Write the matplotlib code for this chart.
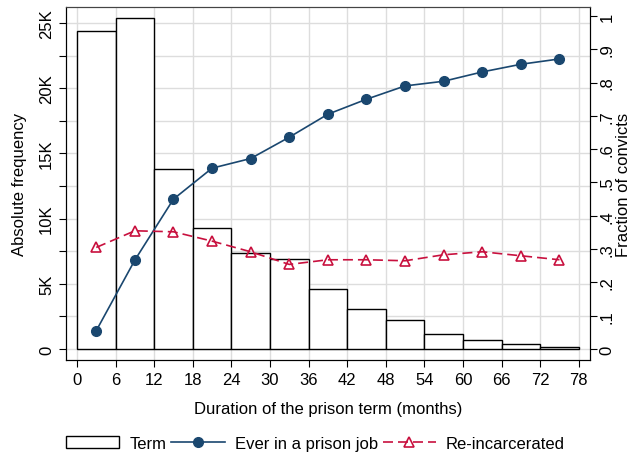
import numpy as np
import matplotlib.pyplot as plt
from matplotlib.ticker import FuncFormatter

plt.rcParams['font.family'] = ['Liberation Sans', 'DejaVu Sans']

# bins of the prison term (months)
bin_left = [0, 6, 12, 18, 24, 30, 36, 42, 48, 54, 60, 66, 72]
bin_mid = [3, 9, 15, 21, 27, 33, 39, 45, 51, 57, 63, 69, 75]
term_count = [24360, 25400, 13800, 9250, 7340, 6930, 4600, 3070, 2200, 1180, 670, 410, 150]
prison_job = [0.055, 0.267, 0.45, 0.543, 0.572, 0.636, 0.705, 0.75, 0.79, 0.804, 0.832, 0.855, 0.871]
reincarc = [0.305, 0.355, 0.352, 0.324, 0.292, 0.254, 0.268, 0.268, 0.265, 0.283, 0.292, 0.28, 0.268]

navy = '#1a476f'
red = '#c8103e'

fig = plt.figure(figsize=(6.31, 4.56), dpi=100)
ax = fig.add_axes([0.1046, 0.2083, 0.83, 0.7742])
ax2 = ax.twinx()

bars = ax.bar(bin_left, term_count, width=6, align='edge', facecolor='white',
              edgecolor='black', linewidth=1.0, label='Term', zorder=2)

ax.set_xlim(-1.7, 79.7)
ax.set_ylim(-840, 26230)
ax.set_xticks(range(0, 79, 6))
ax.set_yticks(np.arange(0, 25001, 2500))
ax.yaxis.set_major_formatter(FuncFormatter(lambda v, p: '' if v % 5000 else ('0' if v == 0 else f'{int(v/1000)}K')))
ax.grid(True, color='#dddddd', linewidth=1.0, zorder=0)
ax.set_axisbelow(True)
ax.tick_params(axis='y', labelrotation=90, labelsize=12, length=5)
ax.tick_params(axis='x', labelsize=12, length=5)
for lab in ax.get_yticklabels():
    lab.set_va('center')
ax.set_ylabel('Absolute frequency', fontsize=12, labelpad=9)
ax.set_xlabel('Duration of the prison term (months)', fontsize=12, labelpad=10)

l1, = ax2.plot(bin_mid, prison_job, '-o', color=navy, markersize=7, linewidth=1.2,
               label='Ever in a prison job', zorder=4)
l2, = ax2.plot(bin_mid, reincarc, '--^', color=red, markersize=7, linewidth=1.2,
               markerfacecolor='none', markeredgewidth=1.2, dashes=(6, 3),
               label='Re-incarcerated', zorder=4)
ax2.set_ylim(-0.033, 1.027)
ax2.set_yticks(np.arange(0, 1.01, 0.1))
ax2.yaxis.set_major_formatter(FuncFormatter(lambda v, p: '0' if abs(v) < 1e-9 else ('1' if abs(v - 1) < 1e-9 else f'{v:.1f}'.lstrip('0'))))
ax2.tick_params(axis='y', labelrotation=90, labelsize=12, length=5, pad=2)
for lab in ax2.get_yticklabels():
    lab.set_va('center')
ax2.set_ylabel('Fraction of convicts', fontsize=12, labelpad=1)

for a in (ax, ax2):
    a.spines['top'].set_color('#444444')

fig.legend([bars, l1, l2], ['Term', 'Ever in a prison job', 'Re-incarcerated'],
           loc='center', bbox_to_anchor=(0.5, 0.025), ncol=3, frameon=False,
           fontsize=12, handlelength=3.2, columnspacing=0.3, handletextpad=0.6)

fig.savefig('out.png', dpi=100)
